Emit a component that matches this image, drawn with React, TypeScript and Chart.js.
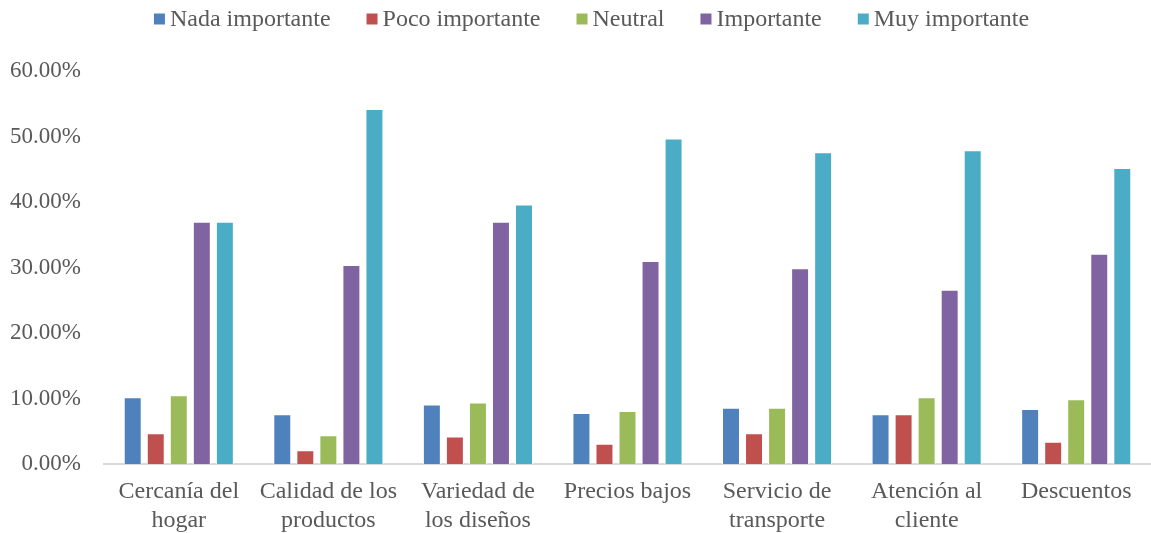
import React, { useEffect, useRef } from "react";
import { Chart, registerables } from "chart.js";

Chart.register(...registerables);

const categories: string[][] = [
  ["Cercanía del", "hogar"],
  ["Calidad de los", "productos"],
  ["Variedad de", "los diseños"],
  ["Precios bajos"],
  ["Servicio de", "transporte"],
  ["Atención al", "cliente"],
  ["Descuentos"],
];

const seriesNames = ["Nada importante", "Poco importante", "Neutral", "Importante", "Muy importante"];
const seriesColors = ["#4F81BD", "#C0504D", "#9BBB59", "#8064A2", "#4BACC6"];

// Percentages per category
const nadaImportante = [10.2, 7.6, 9.1, 7.8, 8.6, 7.6, 8.4];
const pocoImportante = [4.7, 2.1, 4.2, 3.1, 4.7, 7.6, 3.4];
const neutral = [10.5, 4.4, 9.4, 8.1, 8.6, 10.2, 9.9];
const importante = [37.0, 30.4, 37.0, 31.0, 29.9, 26.6, 32.1];
const muyImportante = [37.0, 54.2, 39.6, 49.7, 47.6, 47.9, 45.2];

const seriesValues = [nadaImportante, pocoImportante, neutral, importante, muyImportante];

const FONT = "'Liberation Serif', 'Times New Roman', serif";
const TEXT_COLOR = "#595959";

// Legend drawn as a single centered row above the plot
const topLegend = {
  id: "topLegend",
  afterDraw(chart: Chart) {
    const ctx = chart.ctx;
    const box = 11;
    const boxGap = 5;
    const itemGap = 36;
    ctx.save();
    ctx.font = `24px ${FONT}`;
    ctx.textBaseline = "middle";
    const items = chart.data.datasets.map((ds) => ({
      label: String(ds.label),
      color: String(ds.backgroundColor),
      w: ctx.measureText(String(ds.label)).width,
    }));
    const total =
      items.reduce((s, it) => s + box + boxGap + it.w, 0) + itemGap * (items.length - 1);
    let x = chart.width / 2 + 16 - total / 2;
    const y = 19;
    for (const it of items) {
      ctx.fillStyle = it.color;
      ctx.fillRect(x, y - box / 2, box, box);
      x += box + boxGap;
      ctx.fillStyle = TEXT_COLOR;
      ctx.textAlign = "left";
      ctx.fillText(it.label, x, y + 1);
      x += it.w + itemGap;
    }
    ctx.restore();
  },
};

export default function App() {
  const canvasRef = useRef<HTMLCanvasElement | null>(null);

  useEffect(() => {
    if (!canvasRef.current) return;
    const chart = new Chart(canvasRef.current, {
      type: "bar",
      data: {
        labels: categories,
        datasets: seriesNames.map((name, i) => ({
          label: name,
          data: seriesValues[i],
          backgroundColor: seriesColors[i],
          borderColor: "#FFFFFF",
          borderWidth: 1,
          categoryPercentage: 0.77,
          barPercentage: 0.78,
        })),
      },
      options: {
        responsive: false,
        animation: false,
        devicePixelRatio: 1,
        layout: { padding: { top: 71, left: 9, right: 0, bottom: 0 } },
        plugins: {
          legend: { display: false },
          tooltip: { enabled: false },
        },
        scales: {
          x: {
            grid: { display: false, drawTicks: false },
            border: { display: true, color: "#D9D9D9", width: 2 },
            ticks: {
              color: TEXT_COLOR,
              font: { family: FONT, size: 24, lineHeight: 1.18 },
              padding: 14,
              maxRotation: 0,
              autoSkip: false,
            },
            afterFit: (scale) => {
              scale.height = 69;
            },
          },
          y: {
            min: 0,
            max: 60,
            grid: { display: false, drawTicks: false },
            border: { display: false },
            ticks: {
              stepSize: 10,
              color: TEXT_COLOR,
              font: { family: FONT, size: 23 },
              padding: 23,
              callback: (v) => `${Number(v).toFixed(2)}%`,
            },
            afterFit: (scale) => {
              scale.width = 95;
            },
          },
        },
      },
      plugins: [topLegend],
    });
    return () => chart.destroy();
  }, []);

  return (
    <div style={{ position: "absolute", left: 0, top: 0, width: 1151, height: 533, background: "#fff" }}>
      <canvas ref={canvasRef} width={1151} height={533} />
    </div>
  );
}
